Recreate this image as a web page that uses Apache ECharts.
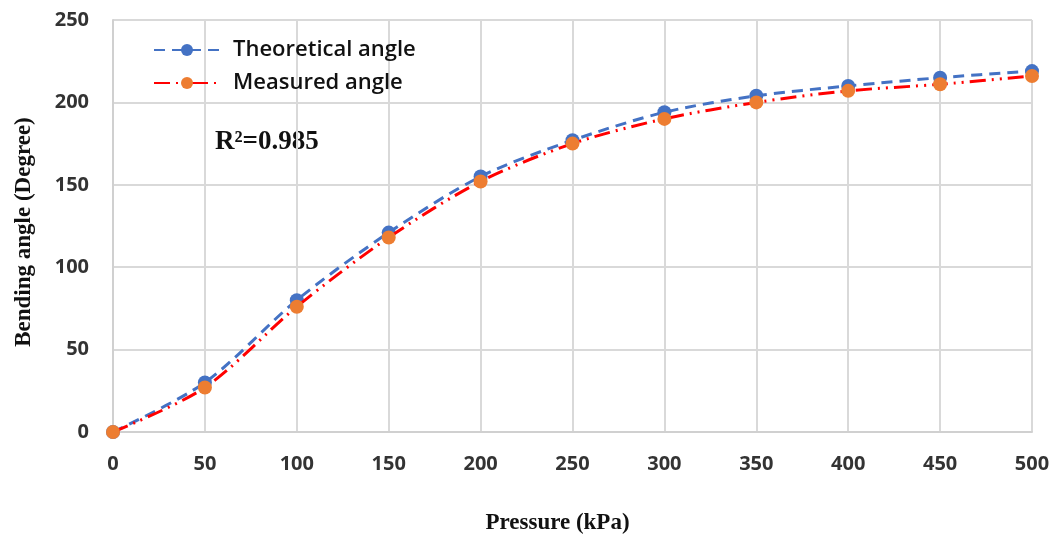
<!DOCTYPE html>
<html>
<head>
<meta charset="utf-8">
<title>Bending angle vs pressure</title>
<script src="https://cdn.jsdelivr.net/npm/echarts@6/dist/echarts.min.js"></script>
<style>
  html, body { margin: 0; padding: 0; background: #fff; }
  #main { width: 1059px; height: 539px; }
</style>
</head>
<body>
<div id="main"></div>
<script>
var pressure = [0, 50, 100, 150, 200, 250, 300, 350, 400, 450, 500];
var theoretical = [0, 30, 80, 121, 155, 177, 194, 204, 210, 215, 219];
var measured = [0, 27, 76, 118, 152, 175, 190, 200, 207, 211, 216];

function pairs(ys) {
    return pressure.map(function (p, i) { return [p, ys[i]]; });
}

var chart = echarts.init(document.getElementById('main'));
var tickFont = { color: '#333', fontSize: 20, fontWeight: 'bold', fontFamily: 'Open Sans' };

chart.setOption({
    backgroundColor: '#fff',
    animation: false,
    grid: { left: 113, right: 27, top: 20, bottom: 107, outerBoundsMode: 'none' },
    legend: {
        left: 148, top: 34,
        orient: 'vertical',
        itemWidth: 66, itemHeight: 15, itemGap: 11,
        textStyle: { color: '#111', fontSize: 22, fontWeight: 600, fontFamily: 'Open Sans', padding: [0, 0, 0, 8] },
        data: ['Theoretical angle', 'Measured angle']
    },
    xAxis: {
        type: 'value', min: 0, max: 500, interval: 50,
        name: 'Pressure (kPa)', nameLocation: 'middle', nameGap: 80,
        nameTextStyle: { color: '#111', fontSize: 23, fontWeight: 'bold', fontFamily: 'Liberation Serif', padding: [0, 30, 0, 0] },
        axisLine: { lineStyle: { color: '#d0d0d0', width: 2 } },
        axisTick: { show: false },
        axisLabel: Object.assign({ margin: 22 }, tickFont),
        splitLine: { lineStyle: { color: '#d9d9d9', width: 2 } }
    },
    yAxis: {
        type: 'value', min: 0, max: 250, interval: 50,
        name: 'Bending angle (Degree)', nameLocation: 'middle', nameGap: 77, nameRotate: 90,
        nameTextStyle: { color: '#111', fontSize: 23, fontWeight: 'bold', fontFamily: 'Liberation Serif', padding: [0, 12, 0, 0] },
        axisLine: { show: true, lineStyle: { color: '#d0d0d0', width: 2 } },
        axisTick: { show: false },
        axisLabel: Object.assign({ margin: 24 }, tickFont),
        splitLine: { lineStyle: { color: '#d9d9d9', width: 2 } }
    },
    graphic: [{
        type: 'text', left: 215, top: 129,
        style: { text: 'R\u00B2=0.985', fill: '#111', font: 'bold 27px "Liberation Serif"' }
    }],
    series: [{
        name: 'Theoretical angle',
        type: 'line',
        data: pairs(theoretical),
        smooth: 0.3,
        symbol: 'circle', symbolSize: 14,
        itemStyle: { color: '#4472C4' },
        lineStyle: { color: '#4472C4', width: 3, type: [11, 7] },
        z: 2
    }, {
        name: 'Measured angle',
        type: 'line',
        data: pairs(measured),
        smooth: 0.3,
        symbol: 'circle', symbolSize: 14,
        itemStyle: { color: '#ED7D31' },
        lineStyle: { color: '#FF0000', width: 3, type: [16, 6, 2, 6, 2, 6] },
        z: 3
    }]
});
</script>
</body>
</html>
